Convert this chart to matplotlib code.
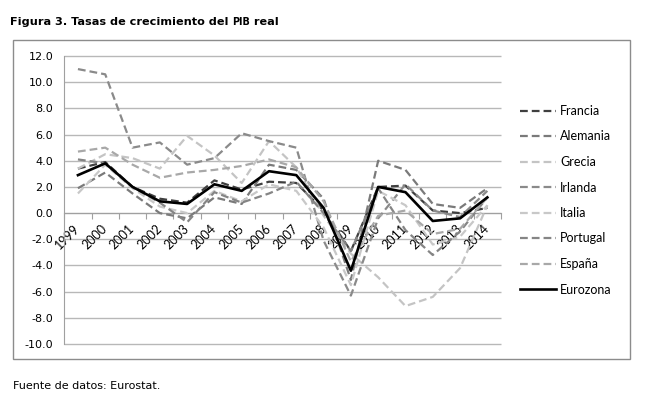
import matplotlib
matplotlib.use("Agg")
import matplotlib.pyplot as plt
from matplotlib.patches import Rectangle
import numpy as np

years = ["1999", "2000", "2001", "2002", "2003", "2004", "2005", "2006",
         "2007", "2008", "2009", "2010", "2011", "2012", "2013", "2014"]

francia  = [3.4, 3.9, 2.0, 1.1, 0.8, 2.5, 1.8, 2.4, 2.3, 0.2, -2.9, 2.0, 2.1, 0.2, 0.0, 0.4]
alemania = [1.9, 3.1, 1.5, 0.0, -0.4, 1.2, 0.7, 3.7, 3.3, 1.1, -5.1, 4.0, 3.3, 0.7, 0.4, 1.9]
grecia   = [3.4, 4.5, 4.2, 3.4, 5.9, 4.4, 2.3, 5.5, 3.5, -0.2, -3.1, -4.9, -7.1, -6.4, -4.2, 0.6]
irlanda  = [11.0, 10.6, 5.0, 5.4, 3.7, 4.2, 6.1, 5.5, 5.0, -2.1, -6.3, -0.4, 2.2, 0.2, -0.3, 1.7]
italia   = [1.5, 3.7, 1.9, 0.5, 0.0, 1.7, 0.9, 2.2, 1.7, -1.1, -5.5, 1.7, 0.6, -2.4, -1.8, 0.6]
portugal = [4.1, 3.8, 2.0, 0.8, -0.7, 1.6, 0.8, 1.5, 2.4, 0.0, -2.9, 1.9, -1.3, -3.2, -1.4, 1.2]
espana   = [4.7, 5.0, 3.7, 2.7, 3.1, 3.3, 3.6, 4.1, 3.5, 0.9, -3.7, -0.2, 0.2, -1.6, -1.2, 1.2]
eurozona = [2.9, 3.8, 2.0, 0.9, 0.7, 2.2, 1.7, 3.2, 2.9, 0.4, -4.4, 2.0, 1.6, -0.6, -0.4, 1.2]

series = [
    ("Francia", francia, "#3f3f3f", True),
    ("Alemania", alemania, "#7a7a7a", True),
    ("Grecia", grecia, "#c4c4c4", True),
    ("Irlanda", irlanda, "#8a8a8a", True),
    ("Italia", italia, "#c8c8c8", True),
    ("Portugal", portugal, "#858585", True),
    ("España", espana, "#a8a8a8", True),
    ("Eurozona", eurozona, "#000000", False),
]

fig = plt.figure(figsize=(6.5, 3.98), dpi=100)
fig.patch.set_facecolor("white")

# outer chart border
fig.patches.append(Rectangle((13/650, 1-359/398), 617/650, 319/398,
                             transform=fig.transFigure, fill=False,
                             edgecolor="#8c8c8c", linewidth=1.0))

ax = fig.add_axes([64.3/650, 1-346/398, (501-64.3)/650, (346-56)/398])
x = np.arange(len(years)) + 0.5

for name, vals, col, dashed in series:
    if dashed:
        ax.plot(x, vals, color=col, linewidth=1.6, linestyle=(0, (3.5, 1.8)),
                label=name, zorder=3, dash_capstyle="butt")
    else:
        ax.plot(x, vals, color=col, linewidth=1.9, label=name, zorder=5)

ax.set_xlim(0, len(years))
ax.set_ylim(-10.15, 12)
yt = np.arange(-10, 12.1, 2)
ax.set_yticks(yt)
ax.set_yticklabels([f"{v:.1f}" for v in yt], fontsize=8, family="DejaVu Sans")
ax.tick_params(axis="y", length=0, pad=8)
# horizontal gridlines at the y ticks
ax.hlines(yt, 0, len(years), colors="#b8b8b8", linewidth=1.0, zorder=1,
          clip_on=False, snap=True)

for s in ["top", "right"]:
    ax.spines[s].set_visible(False)
ax.spines["left"].set_color("#a0a0a0")
ax.spines["left"].set_bounds(-10, 12)
ax.spines["bottom"].set_position(("data", 0))
ax.spines["bottom"].set_color("#a0a0a0")

ax.set_xticks(np.arange(0, len(years) + 1))
ax.set_xticklabels([])
ax.tick_params(axis="x", which="major", length=4, color="#a0a0a0", direction="out")
ax.set_xticks(x, minor=True)
ax.set_xticklabels(years, minor=True, fontsize=9, family="Lato")
ax.tick_params(axis="x", which="minor", length=0, pad=10)
for lab in ax.get_xticklabels(minor=True):
    lab.set_rotation(45)
    lab.set_ha("right")
    lab.set_va("center")
    lab.set_rotation_mode("anchor")

leg = fig.legend(loc="upper left", bbox_to_anchor=(520/650, 1-105/398),
                 frameon=False, prop={"family": "Lato", "size": 9},
                 handlelength=2.9, handletextpad=0.3, labelspacing=1.08,
                 borderpad=0, borderaxespad=0)

# title
ty = 1-25/398
t1 = fig.text(10/650, ty, "Figura 3. Tasas de crecimiento del ",
              fontsize=8.1, fontweight="bold", family="DejaVu Sans")
t2 = fig.text(0, 0, "PIB", fontsize=6.9, fontweight="bold", family="DejaVu Sans")
t3 = fig.text(0, 0, " real", fontsize=8.1, fontweight="bold", family="DejaVu Sans")
fig.canvas.draw()
r = fig.canvas.get_renderer()
bb = t1.get_window_extent(r)
t2.set_position((bb.x1 / 650, ty))
fig.canvas.draw()
bb2 = t2.get_window_extent(r)
t3.set_position((bb2.x1 / 650, ty))

fig.text(13/650, 1-389/398, "Fuente de datos: Eurostat.", fontsize=8,
         family="DejaVu Sans")

fig.savefig("out.png", dpi=100)
